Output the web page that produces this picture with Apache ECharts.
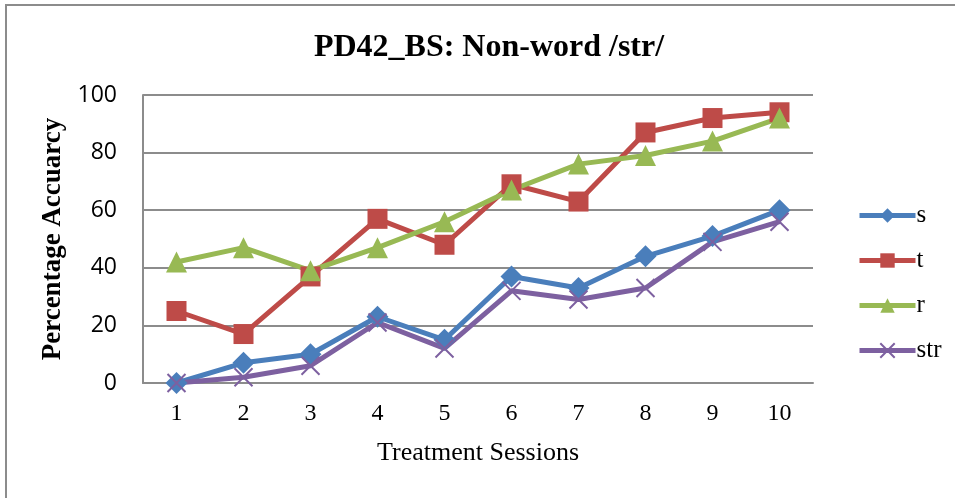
<!DOCTYPE html>
<html>
<head>
<meta charset="utf-8">
<script src="https://cdn.jsdelivr.net/npm/echarts@6/dist/echarts.min.js"></script>
<style>
  html, body { margin: 0; padding: 0; background: #fff; overflow: hidden; }
  #frame { position: absolute; left: 5px; top: 4px; width: 1000px; height: 600px; border: 2px solid #8c8c8c; box-sizing: border-box; }
  #chart { position: absolute; left: 0; top: 0; width: 955px; height: 498px; }
</style>
</head>
<body>
<div id="frame"></div>
<div id="chart"></div>
<script>
// sessions on the x axis
const sessions = ['1', '2', '3', '4', '5', '6', '7', '8', '9', '10'];

// accuracy per target sound (%)
const sValues = [0, 7, 10, 23, 15, 37, 33, 44, 51, 60];
const tValues = [25, 17, 37, 57, 48, 69, 63, 87, 92, 94];
const rValues = [42, 47, 39, 47, 56, 67, 76, 79, 84, 92];
const strValues = [0, 2, 6, 21, 12, 32, 29, 33, 49, 56];

const serif = '"Liberation Serif", "Times New Roman", serif';
const sans = '"Open Sans", "Liberation Sans", sans-serif';
const cross = 'path://M0,0L10,10M10,0L0,10';

function lineSeries(name, data, color, symbol, size) {
  return {
    name: name,
    type: 'line',
    data: data,
    symbol: symbol,
    symbolSize: size,
    showAllSymbol: true,
    lineStyle: { color: color, width: 5 },
    itemStyle: { color: color, borderColor: color, borderWidth: symbol === cross ? 2 : 0 },
    emphasis: { disabled: true }
  };
}

const chart = echarts.init(document.getElementById('chart'));
chart.setOption({
  animation: false,
  backgroundColor: 'transparent',
  title: {
    text: 'PD42_BS: Non-word /str/',
    left: 484,
    textAlign: 'center',
    top: 27,
    textStyle: { fontFamily: serif, fontWeight: 'bold', fontSize: 32, color: '#000' }
  },
  legend: {
    orient: 'vertical',
    left: 852,
    top: 198,
    itemWidth: 56,
    itemHeight: 18,
    itemGap: 20,
    lineStyle: { width: 5 },
    textStyle: { fontFamily: serif, fontSize: 25, color: '#000', padding: [0, 0, 0, -4] },
    data: ['s', 't', 'r', 'str']
  },
  grid: { left: 143, right: 142, top: 95, bottom: 115 },
  xAxis: {
    type: 'category',
    data: sessions,
    name: 'Treatment Sessions',
    nameLocation: 'middle',
    nameGap: 57,
    nameTextStyle: { fontFamily: serif, fontSize: 26, color: '#000' },
    axisLine: { lineStyle: { color: '#8c8c8c', width: 2 } },
    axisTick: { show: false },
    axisLabel: { fontFamily: serif, fontSize: 24, color: '#000', margin: 19 }
  },
  yAxis: {
    type: 'value',
    min: 0,
    max: 100,
    interval: 20,
    name: 'Percentage Accuarcy',
    nameLocation: 'middle',
    nameGap: 72,
    nameTextStyle: { fontFamily: serif, fontSize: 27, fontWeight: 'bold', color: '#000' },
    axisLine: { show: true, lineStyle: { color: '#8c8c8c', width: 2 } },
    axisTick: { show: false },
    axisLabel: { fontFamily: sans, fontSize: 23, color: '#000', margin: 26 },
    splitLine: { lineStyle: { color: '#8c8c8c', width: 2 } }
  },
  series: [
    lineSeries('s', sValues, '#4a7ebb', 'diamond', 22),
    lineSeries('t', tValues, '#be4b48', 'rect', 20),
    lineSeries('r', rValues, '#98b954', 'triangle', 21),
    lineSeries('str', strValues, '#7d60a0', cross, 18)
  ]
});
</script>
</body>
</html>
